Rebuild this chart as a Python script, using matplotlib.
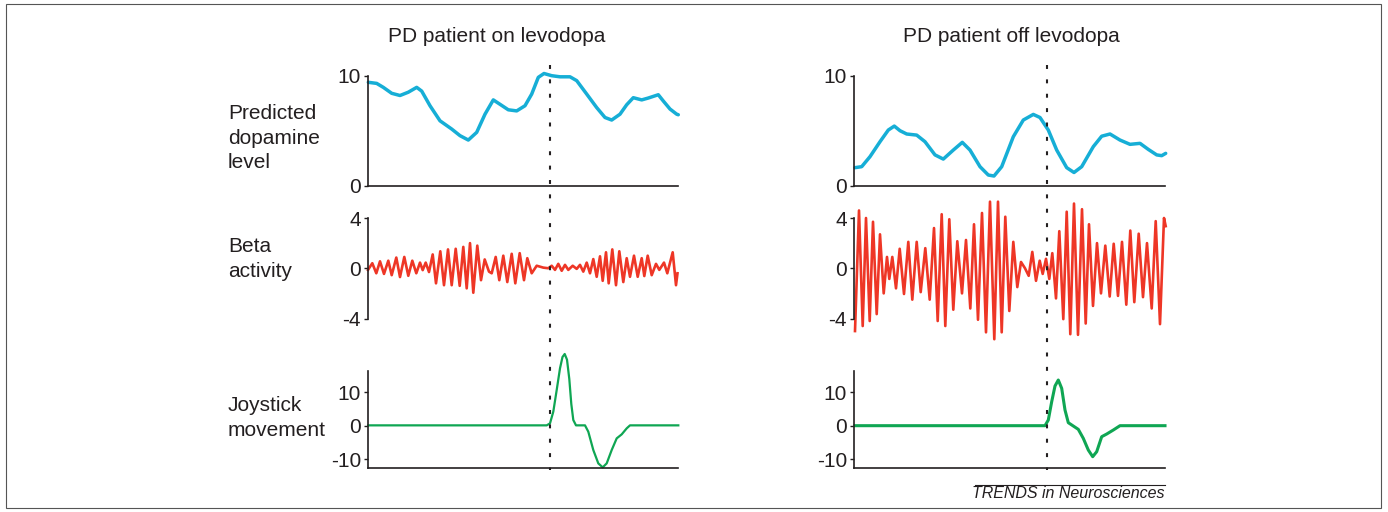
import matplotlib
matplotlib.use('Agg')
import matplotlib.pyplot as plt
from matplotlib.lines import Line2D
from matplotlib.patches import Rectangle

plt.rcParams['font.family'] = ['Liberation Sans', 'DejaVu Sans']

# ---------------- data (time in samples) ----------------
titles = ["PD patient on levodopa", "PD patient off levodopa"]
row_labels = ["Predicted\ndopamine\nlevel", "Beta\nactivity", "Joystick\nmovement"]
cue_time_on = 182.0
cue_time_off = 192.5

dopa_on_t = [0.3, 8.7, 15.3, 23.7, 32, 40.3, 48.7, 53.7, 62, 72, 83.7, 92, 100.3, 108.7,
             117, 125.3, 132, 140.3, 148.7, 157, 163.7, 170.3, 176, 183.7, 192, 202, 208.7,
             218.7, 228.7, 237, 243.7, 252, 258.7, 265.3, 273.7, 280.3, 290.3, 295.3, 302,
             308.7, 310.3]
dopa_on_v = [9.4, 9.3, 8.94, 8.4, 8.2, 8.5, 8.94, 8.6, 7.27, 5.9, 5.15, 4.55, 4.15, 4.85,
             6.5, 7.8, 7.4, 6.9, 6.8, 7.27, 8.33, 9.85, 10.2, 10.0, 9.9, 9.9, 9.55,
             8.33, 7.1, 6.2, 5.97, 6.5, 7.36, 8.0, 7.8, 7.97, 8.27, 7.7, 6.97,
             6.5, 6.45]

dopa_off_t = [1, 7.7, 16, 26, 34.3, 40.3, 46, 52.7, 62.7, 71, 81, 89.3, 99.3, 108.3, 116,
              126, 134.3, 140, 147.7, 159.3, 169.3, 179.3, 186, 194.3, 202.7, 212.7, 220,
              227.7, 239.3, 247.7, 256, 266, 276, 286, 294.3, 302.7, 307.7, 311.7]
dopa_off_v = [1.64, 1.73, 2.64, 4.0, 5.06, 5.42, 5.0, 4.7, 4.6, 4.0, 2.8, 2.42, 3.24, 3.94,
              3.24, 1.73, 0.97, 0.88, 1.73, 4.45, 5.97, 6.48, 6.2, 5.06, 3.24, 1.64, 1.2,
              1.73, 3.55, 4.5, 4.7, 4.15, 3.76, 3.85, 3.3, 2.8, 2.73, 2.94]

beta_on_t = [0, 4.3, 8.3, 12, 16, 20.3, 23.7, 28.3, 32, 36.3, 40.3, 44.3, 48.3, 52, 54.7,
             57.7, 61, 64.7, 68, 72.3, 76, 80, 83.7, 87.7, 91.7, 95.3, 98.7, 102, 105.3,
             109.3, 113, 116.7, 121, 123.7, 127.7, 131.3, 135.3, 139.3, 143.7, 147.3, 151.7,
             156, 159.3, 163.7, 168.7, 175.3, 180.3, 183.7, 187, 190.3, 193.7, 197, 200.3,
             204.7, 208.7, 212, 215.3, 218.7, 222, 225.3, 228.7, 232, 234.7, 238, 240.7,
             244.3, 248, 251.3, 255.3, 258.7, 262, 266, 269.7, 273.7, 276.3, 279.7, 283.7,
             288, 291.3, 296, 299.3, 304.7, 308, 309.5]
beta_on_v = [-0.13, 0.4, -0.4, 0.55, -0.45, 0.6, -0.55, 0.85, -0.7, 0.9, -0.6, 0.6, -0.4,
             0.45, -0.15, 0.45, -0.3, 1.1, -1.2, 1.35, -1.35, 1.5, -1.35, 1.55, -1.4, 1.7,
             -1.6, 2.0, -1.95, 1.8, -0.95, 0.7, -0.27, -0.4, 0.9, -0.95, 1.0, -1.1, 1.15,
             -1.2, 1.2, -0.95, 0.8, -0.4, 0.2, 0.05, 0.0, 0.2, -0.13, 0.35, -0.2, 0.27,
             -0.13, 0.2, -0.05, 0.27, -0.27, 0.45, -0.4, 0.73, -0.68, 0.95, -1.0, 1.27,
             -1.2, 1.5, -1.35, 1.35, -1.1, 0.8, -0.68, 1.0, -0.68, 0.8, -0.62, 1.0, -0.55,
             0.35, -0.13, 0.45, -0.4, 1.27, -1.35, -0.4]

beta_off_t = [1.0, 5.0, 8.7, 12.0, 15.7, 19.0, 22.7, 26.0, 29.7, 33.0, 35.3, 38.3, 42.0,
              45.7, 50.0, 54.3, 58.3, 62.7, 66.7, 71.3, 75.7, 80.0, 83.7, 87.7, 91.3, 95.3,
              99.3, 103.3, 108.0, 112.0, 116.3, 120.0, 124.0, 128.0, 132.0, 136.0, 140.3,
              144.0, 147.7, 151.3, 155.3, 159.3, 163.3, 167.0, 171.0, 174.7, 178.3, 182.0,
              185.7, 188.7, 192.0, 195.3, 198.3, 202.0, 205.3, 209.3, 212.7, 216.3, 220.0,
              224.0, 228.0, 231.7, 235.0, 239.0, 243.0, 247.0, 251.3, 255.7, 259.7, 264.0,
              268.0, 272.3, 276.3, 280.3, 284.7, 289.0, 293.0, 297.7, 301.7, 306.0, 310.0,
              311.7]
beta_off_v = [-5.0, 4.6, -4.6, 4.0, -4.2, 3.7, -3.65, 2.7, -2.0, 0.9, -0.85, 0.9, -1.6,
              1.55, -2.05, 2.1, -2.5, 2.1, -1.9, 1.6, -2.5, 3.2, -4.2, 4.3, -4.6, 3.9,
              -3.3, 2.15, -2.0, 2.25, -3.2, 3.5, -4.1, 4.4, -5.1, 5.3, -5.65, 5.3, -5.1,
              4.1, -3.4, 2.1, -1.5, 0.5, 0.0, -0.6, 1.3, -1.0, 0.6, -0.45, 0.75, -0.85,
              1.2, -2.4, 2.95, -4.05, 4.5, -5.25, 5.15, -5.3, 4.7, -4.4, 3.5, -3.0, 2.0,
              -2.0, 1.8, -2.25, 1.95, -2.2, 2.1, -2.9, 3.0, -2.7, 2.75, -2.3, 2.0, -3.2,
              3.75, -4.45, 4.0, 3.35]

joy_on_t = [0.3, 178.7, 182, 185.3, 188.7, 192, 194.5, 196.7, 199, 201.3, 203.3, 205.3,
            208, 217, 220.3, 225.3, 230.3, 234.7, 238.7, 243.7, 248.7, 253.7, 258.7, 262,
            310.3]
joy_on_v = [0.1, 0.1, 0.7, 4.2, 10.7, 17.2, 20.6, 21.5, 19.8, 14.0, 6.5, 1.7,
            0.1, 0.1, -1.8, -7.3, -11.3, -12.5, -11.3, -7.3, -3.8, -2.6, -0.8, 0.1,
            0.1]

joy_off_t = [1, 191, 194.3, 197.7, 201, 204.3, 207.7, 211, 214.3, 219.3, 224.3, 229.3,
             234.3, 238.7, 242.7, 247.7, 252.7, 259.3, 266, 311]
joy_off_v = [0, 0, 1.7, 7.2, 11.9, 13.7, 11.2, 4.7, 0.9, -0.1, -1.1, -3.8, -7.3, -9.3,
             -7.8, -3.3, -2.5, -1.3, 0, 0]

dopa_ticks = [0, 10]
beta_ticks = [-4, 0, 4]
joy_ticks = [-10, 0, 10]

# ---------------- styling ----------------
TXT = '#231F20'
BLUE = '#16AED6'
RED = '#EE3626'
GREEN = '#0FA653'
FS = 15

W, H = 1388, 512
fig = plt.figure(figsize=(W / 100, H / 100), dpi=100)


def rect(x0, w, y_top, y_bot):
    return [x0 / W, 1 - y_bot / H, w / W, (y_bot - y_top) / H]


def style(ax, xmax, ylim, ticks, bottom=True, spine_lw=1.2):
    ax.set_xlim(0, xmax)
    ax.set_ylim(*ylim)
    ax.patch.set_alpha(0)
    for s in ['top', 'right']:
        ax.spines[s].set_visible(False)
    ax.spines['bottom'].set_visible(bottom)
    for s in ['left', 'bottom']:
        ax.spines[s].set_color(TXT)
        ax.spines[s].set_linewidth(spine_lw)
    ax.set_xticks([])
    ax.set_yticks(ticks)
    ax.set_yticklabels([str(t) for t in ticks])
    ax.tick_params(axis='y', direction='out', length=3, width=1, pad=2,
                   labelsize=FS, colors=TXT)


cols = [
    dict(x0=368, w=310, xmax=310, dt=dopa_on_t, dv=dopa_on_v, bt=beta_on_t, bv=beta_on_v,
         jt=joy_on_t, jv=joy_on_v, cue=cue_time_on, jlw=1.6, title=titles[0], tx=497),
    dict(x0=854, w=311, xmax=311, dt=dopa_off_t, dv=dopa_off_v, bt=beta_off_t, bv=beta_off_v,
         jt=joy_off_t, jv=joy_off_v, cue=cue_time_off, jlw=2.2, title=titles[1], tx=1011),
]

for c in cols:
    ax1 = fig.add_axes(rect(c['x0'], c['w'], 75.7, 185.7))
    style(ax1, c['xmax'], (0, 10), dopa_ticks)
    ax1.plot(c['dt'], c['dv'], color=BLUE, lw=2.5, clip_on=False,
             solid_joinstyle='round', solid_capstyle='round')

    ax2 = fig.add_axes(rect(c['x0'], c['w'], 218, 318.5))
    style(ax2, c['xmax'], (-4, 4), beta_ticks, bottom=False)
    ax2.plot(c['bt'], c['bv'], color=RED, lw=1.9, clip_on=False, solid_joinstyle='round')

    ax3 = fig.add_axes(rect(c['x0'], c['w'], 371, 467.7))
    style(ax3, c['xmax'], (-12.6, 16.4), joy_ticks)
    ax3.plot(c['jt'], c['jv'], color=GREEN, lw=c['jlw'], clip_on=False, solid_joinstyle='round')

    # dotted cue line spanning all three panels
    xd = ax1.transData.transform((c['cue'], 0))[0]
    xf = fig.transFigure.inverted().transform((xd, 0))[0]
    fig.add_artist(Line2D([xf, xf], [1 - 65 / H, 1 - 470 / H], transform=fig.transFigure,
                          color=TXT, lw=1.5, linestyle=(0, (1.9, 5.0))))

    fig.text(c['tx'] / W, 1 - 37 / H, c['title'], ha='center', va='center',
             fontsize=FS, color=TXT)

# row labels
for lab, yc in zip(row_labels, [138, 259, 418]):
    fig.text(228 / W, 1 - yc / H, lab, ha='left', va='center', fontsize=FS,
             color=TXT, linespacing=1.34)

# source credit with overline
fig.text(1165 / W, 1 - 494 / H, 'TRENDS in Neurosciences', ha='right', va='center',
         fontsize=11.5, style='italic', color=TXT)
fig.add_artist(Line2D([975 / W, 1165 / W], [1 - 484.5 / H, 1 - 484.5 / H],
                      transform=fig.transFigure, color=TXT, lw=0.8))

# outer frame
fig.add_artist(Rectangle((6 / W, 1 - 508 / H), 1375 / W, 504 / H, transform=fig.transFigure,
                         fill=False, edgecolor='#555555', lw=0.8))

fig.savefig('out.png', dpi=100)
